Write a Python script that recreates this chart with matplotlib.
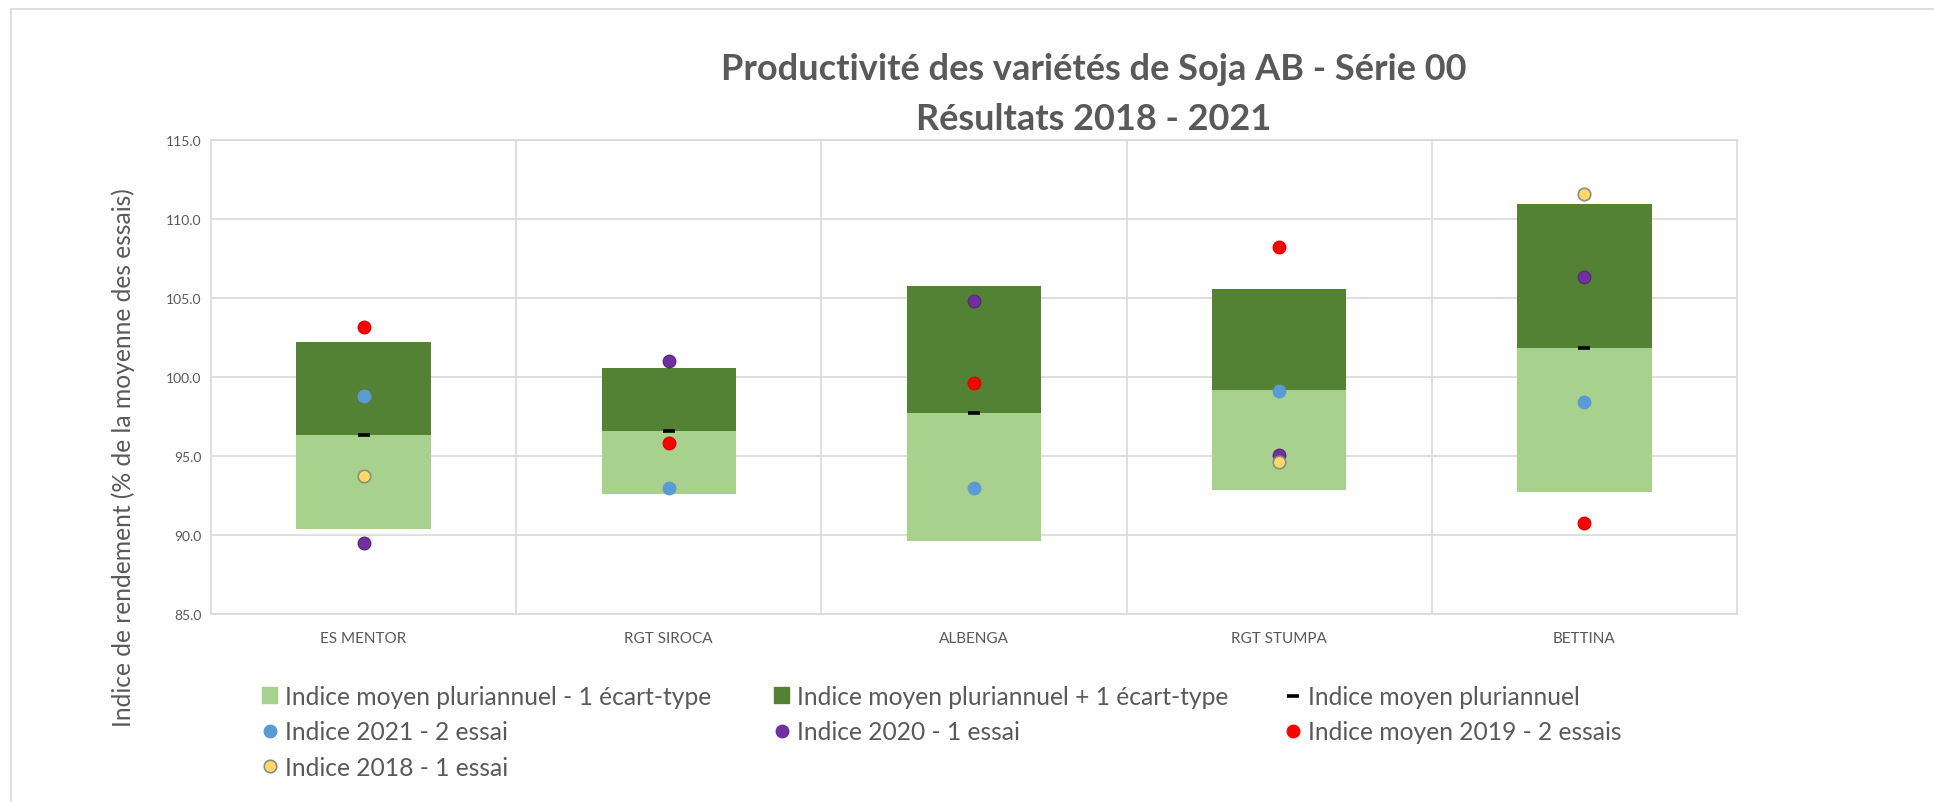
import numpy as np
import matplotlib
matplotlib.use("Agg")
from matplotlib import pyplot as plt
from matplotlib.lines import Line2D
from matplotlib.patches import Patch

plt.rcParams['font.family'] = ['Lato', 'DejaVu Sans']

varietes = ["ES MENTOR", "RGT SIROCA", "ALBENGA", "RGT STUMPA", "BETTINA"]
moyenne = [96.3, 96.6, 97.7, 99.2, 101.85]
ecart_type = [5.9, 4.0, 8.05, 6.35, 9.1]
indice_2021 = [98.8, 93.0, 93.0, 99.1, 98.4]
indice_2020 = [89.5, 101.0, 104.8, 95.05, 106.35]
indice_2019 = [103.15, 95.8, 99.65, 108.25, 90.75]
indice_2018 = [93.75, np.nan, np.nan, 94.65, 111.6]

gris = "#595959"
vert_clair = "#A9D18E"
vert_fonce = "#548235"

fig = plt.figure(figsize=(19.34, 8.03), dpi=100)
ax = fig.add_axes([211 / 1934, 1 - 615 / 803, 1526 / 1934, 474 / 803])

x = np.arange(len(varietes))
moy = np.array(moyenne)
et = np.array(ecart_type)
larg = 0.44

ax.bar(x, et, larg, bottom=moy - et, color=vert_clair, zorder=2)
ax.bar(x, et, larg, bottom=moy, color=vert_fonce, zorder=2)
ax.plot(x, moy, ls="none", marker="_", ms=9, mew=2.6, color="black", zorder=3)

pts = dict(ls="none", marker="o", ms=9, zorder=4)
ax.plot(x, indice_2021, color="#5B9BD5", mec="#5B9BD5", **pts)
ax.plot(x, indice_2020, color="#7030A0", mec="#5A2A80", **pts)
ax.plot(x, indice_2019, color="#FF0000", mec="#E00000", **pts)
ax.plot(x, indice_2018, color="#FFD966", mec="#8C8C8C", mew=1.2, **pts)

ax.set_xlim(-0.5, len(varietes) - 0.5)
ax.set_ylim(85, 115)
ax.set_yticks(np.arange(85, 115.1, 5))
ax.set_yticklabels(["%.1f" % v for v in np.arange(85, 115.1, 5)])
ax.set_xticks(x)
ax.set_xticklabels(varietes)
ax.set_xticks(np.arange(0.5, len(varietes) - 0.5, 1), minor=True)
ax.tick_params(axis="both", which="both", length=0, colors=gris)
ax.tick_params(axis="x", pad=12, labelsize=11)
ax.tick_params(axis="y", pad=7, labelsize=10)
ax.grid(axis="y", which="major", color="#D9D9D9", lw=1.2, zorder=0)
ax.grid(axis="x", which="minor", color="#D9D9D9", lw=1.2, zorder=0)
for s in ax.spines.values():
    s.set_color("#D9D9D9")
    s.set_linewidth(1.2)
ax.set_axisbelow(True)

fig.text(123 / 1934, 1 - 458 / 803, "Indice de rendement (% de la moyenne des essais)",
         rotation=90, ha="center", va="center", fontsize=17.7, color=gris)

fig.text(1094 / 1934, 1 - 70 / 803, "Productivité des variétés de Soja AB - Série 00",
         ha="center", va="center", fontsize=26, fontweight="bold", color=gris)
fig.text(1094 / 1934, 1 - 120 / 803, "Résultats 2018 - 2021",
         ha="center", va="center", fontsize=26, fontweight="bold", color=gris)

# cadre
fig.add_artist(Line2D([11 / 1934, 11 / 1934], [0, 1 - 10 / 803], color="#D9D9D9", lw=1.2))
fig.add_artist(Line2D([11 / 1934, 1], [1 - 10 / 803, 1 - 10 / 803], color="#D9D9D9", lw=1.2))

# legende : trois colonnes placees comme dans Excel
h_bas = Patch(color=vert_clair)
h_haut = Patch(color=vert_fonce)
h_moy = Line2D([], [], ls="none", marker="_", ms=9, mew=2.6, color="black")
h21 = Line2D([], [], ls="none", marker="o", ms=9, color="#5B9BD5")
h20 = Line2D([], [], ls="none", marker="o", ms=9, color="#7030A0")
h19 = Line2D([], [], ls="none", marker="o", ms=9, color="#FF0000")
h18 = Line2D([], [], ls="none", marker="o", ms=9, color="#FFD966", mec="#8C8C8C", mew=1.2)

colonnes = [
    (262, [h_bas, h21, h18], ["Indice moyen pluriannuel - 1 écart-type",
                              "Indice 2021 - 2 essai", "Indice 2018 - 1 essai"]),
    (774, [h_haut, h20], ["Indice moyen pluriannuel + 1 écart-type",
                          "Indice 2020 - 1 essai"]),
    (1285, [h_moy, h19], ["Indice moyen pluriannuel", "Indice moyen 2019 - 2 essais"]),
]
for gauche, hs, ls in colonnes:
    leg = fig.legend(hs, ls, loc="upper left", bbox_to_anchor=(gauche / 1934, 1 - 686 / 803),
                     frameon=False, fontsize=17.7, handlelength=0.62, handleheight=0.62,
                     handletextpad=0.3, labelspacing=0.5, borderpad=0, borderaxespad=0)
    for t in leg.get_texts():
        t.set_color(gris)

fig.savefig("out.png", dpi=100)
